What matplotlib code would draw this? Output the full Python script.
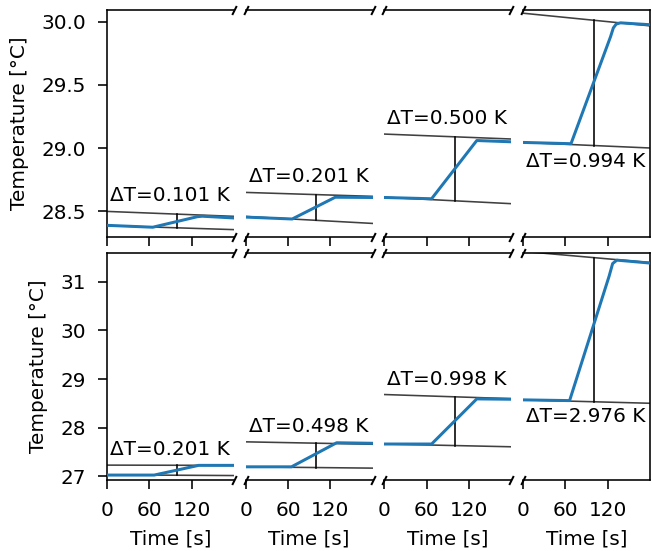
import matplotlib.pyplot as plt
import numpy as np

# temperature trace, one list per panel (time relabelled from 0 in each panel)
t_top = [[0, 65, 128, 135, 180],
         [0, 66, 127, 180],
         [0, 67, 131, 180],
         [0, 68, 124, 128, 132, 138, 180]]
T_top = [[28.39, 28.375, 28.458, 28.462, 28.448],
         [28.455, 28.44, 28.612, 28.61],
         [28.61, 28.60, 29.06, 29.05],
         [29.045, 29.035, 29.88, 29.95, 29.98, 29.99, 29.975]]

t_bot = [[0, 67, 130, 180],
         [0, 65, 129, 180],
         [0, 67, 131, 180],
         [0, 66, 122, 127, 133, 180]]
T_bot = [[27.02, 27.02, 27.22, 27.22],
         [27.19, 27.19, 27.686, 27.675],
         [27.66, 27.66, 28.59, 28.583],
         [28.57, 28.555, 31.12, 31.38, 31.45, 31.39]]

# extrapolated fits (value at t=0 and t=180): after step / before step
upper_top = [[28.50, 28.461], [28.65, 28.619], [29.111, 29.072], [30.066, 29.966]]
lower_top = [[28.388, 28.356], [28.46, 28.405], [28.612, 28.561], [29.045, 29.001]]
upper_bot = [[27.225, 27.22], [27.705, 27.655], [28.68, 28.595], [31.63, 31.40]]
lower_bot = [[27.025, 27.01], [27.19, 27.163], [27.66, 27.603], [28.57, 28.50]]

dT_top = ['0.101', '0.201', '0.500', '0.994']
dT_bot = ['0.201', '0.498', '0.998', '2.976']

t_ends = [0, 180]
t_mid = 100

fig, axes = plt.subplots(2, 4, figsize=(652 / 144, 551 / 144), dpi=144,
                         sharex=True, sharey='row')
fig.subplots_adjust(left=0.164, right=0.997, top=0.982, bottom=0.129,
                    wspace=0.092, hspace=0.07)

rows = [(t_top, T_top, upper_top, lower_top, dT_top, (28.298, 30.092)),
        (t_bot, T_bot, upper_bot, lower_bot, dT_bot, (26.92, 31.6))]

for r, (ts, Ts, ups, lows, dts, ylim) in enumerate(rows):
    for c in range(4):
        ax = axes[r, c]
        ax.plot(t_ends, ups[c], color='0.25', lw=0.8, zorder=2)
        ax.plot(t_ends, lows[c], color='0.25', lw=0.8, zorder=2)
        y_hi = np.interp(t_mid, t_ends, ups[c])
        y_lo = np.interp(t_mid, t_ends, lows[c])
        ax.plot([t_mid, t_mid], [y_lo, y_hi], color='k', lw=0.8, zorder=2)
        ax.plot(ts[c], Ts[c], color='#1f77b4', lw=1.5, zorder=3)

        label = '\u0394T=' + dts[c] + ' K'
        if c < 3:
            ax.annotate(label, xy=(0, ups[c][0]), xytext=(1.5, 5),
                        textcoords='offset points', va='baseline', ha='left')
        else:
            ax.annotate(label, xy=(0, min(lows[c])), xytext=(1.5, -2),
                        textcoords='offset points', va='top', ha='left')

        ax.set_xlim(0, 180)
        ax.set_ylim(*ylim)
        ax.set_xticks([0, 60, 120])
        ax.tick_params(length=4.5, pad=6)

        # broken axis look
        if c > 0:
            ax.spines['left'].set_visible(False)
            ax.tick_params(left=False)
        if c < 3:
            ax.spines['right'].set_visible(False)
        marks = []
        if c > 0:
            marks.append(0)
        if c < 3:
            marks.append(1)
        for xm in marks:
            ax.plot([xm, xm], [0, 1], transform=ax.transAxes, marker=[(-0.5, -1), (0.5, 1)],
                    markersize=4.5, mew=1, color='k', linestyle='none', clip_on=False)

        if r == 1:
            ax.set_xlabel('Time [s]', labelpad=5)
    axes[r, 0].set_ylabel('Temperature [\u00b0C]', labelpad=6)

plt.savefig('out.png', dpi=144)
